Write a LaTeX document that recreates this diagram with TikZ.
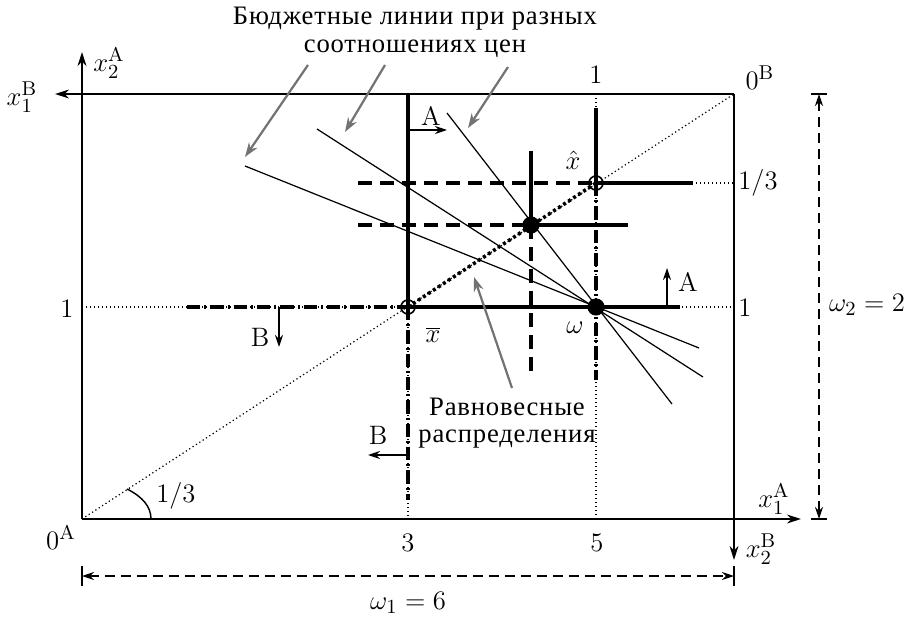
\documentclass[12pt,tikz,border=0pt]{standalone}
\usepackage{fontspec}
\newfontfamily\ru[LetterSpace=3]{Liberation Serif}
\DeclareMathSizes{12}{12}{9}{7}
\usetikzlibrary{arrows.meta}
\begin{document}
\begin{tikzpicture}[x=0.45pt,y=-0.45pt,
  boxline/.style={line width=0.72pt},
  axisarrow/.style={-{Stealth[length=6.3pt,width=4pt]}},
  gridline/.style={line width=0.55pt, dash pattern=on 0.55pt off 1.25pt},
  thickline/.style={line width=1.45pt},
  thickdash/.style={line width=1.45pt, dash pattern=on 6.3pt off 3.6pt},
  thickdashdot/.style={line width=1.45pt, dash pattern=on 6pt off 1.8pt on 0.9pt off 1.8pt},
  contract/.style={line width=1.6pt, dash pattern=on 1.35pt off 1.35pt},
  dimline/.style={line width=0.63pt, dash pattern=on 4.5pt off 2.7pt, {Stealth[length=5.4pt,width=3.6pt]}-{Stealth[length=5.4pt,width=3.6pt]}},
  tickbar/.style={line width=0.72pt},
  smallarrow/.style={line width=0.63pt, -{Stealth[length=5.4pt,width=3.6pt]}},
  grayarrow/.style={draw=black!55, line width=1pt, -{Stealth[length=6.5pt,width=4.5pt]}},
  budget/.style={line width=0.55pt},
  opendot/.style={circle, draw, line width=0.72pt, inner sep=0pt, minimum size=6.3pt},
  fulldot/.style={circle, fill, inner sep=0pt, minimum size=7.7pt},
  lbl/.style={inner sep=1pt},
]
\useasboundingbox (0,0) rectangle (909,617);

% corners and axis ends
\coordinate (OA) at (82,519);
\coordinate (OB) at (734,94);
\coordinate (TL) at (82,94);
\coordinate (BR) at (734,519);
\coordinate (x1Bend) at (55,94);
\coordinate (x2Aend) at (82,52);
\coordinate (x1Aend) at (801,519);
\coordinate (x2Bend) at (734,560);

% key points
\coordinate (xbar) at (408,307);
\coordinate (xhat) at (596,183);
\coordinate (omega) at (596,307);
\coordinate (mid) at (531,225);

% grid (dotted) lines
\coordinate (g1a) at (82,307);   \coordinate (g1b) at (734,307);
\coordinate (g2a) at (596,183);  \coordinate (g2b) at (734,183);
\coordinate (g3a) at (596,94);   \coordinate (g3b) at (596,519);
\coordinate (g4a) at (408,307);  \coordinate (g4b) at (408,519);
\draw[gridline] (g1a) -- (g1b);
\draw[gridline] (g2a) -- (g2b);
\draw[gridline] (g3a) -- (g3b);
\draw[gridline] (g4a) -- (g4b);
\draw[gridline] (OA) -- (OB);

% box and axes
\draw[boxline] (TL) -- (BR |- TL);
\draw[boxline,axisarrow] (OB) -- (x1Bend);
\draw[boxline,axisarrow] (OA) -- (x2Aend);
\draw[boxline,axisarrow] (OA) -- (x1Aend);
\draw[boxline,axisarrow] (OB) -- (x2Bend);

% budget lines
\coordinate (b1s) at (245,166); \coordinate (b1e) at (699,348);
\coordinate (b2s) at (317,129); \coordinate (b2e) at (703,377);
\coordinate (b3s) at (447,113); \coordinate (b3e) at (672,404);
\draw[budget] (b1s) -- (b1e);
\draw[budget] (b2s) -- (b2e);
\draw[budget] (b3s) -- (b3e);

% indifference boundaries through xbar
\coordinate (xbL) at (187,307);
\coordinate (xbT) at (408,94);
\coordinate (xbD) at (408,500);
\coordinate (omR) at (680,307);
\draw[thickdashdot] (xbL) -- (xbar);
\draw[thickline] (xbT) -- (xbar) -- (omR);
\draw[thickdashdot] (xbar) -- (xbD);

% through xhat
\coordinate (xhL) at (358,183);
\coordinate (xhR) at (693,183);
\coordinate (xhT) at (596,108);
\coordinate (omD) at (596,380);
\draw[thickdash] (xhL) -- (xhat);
\draw[thickline] (xhat) -- (xhR);
\draw[thickline] (xhT) -- (xhat);
\draw[thickdashdot] (xhat) -- (omD);

% through middle point
\coordinate (mL) at (358,225);
\coordinate (mR) at (628,225);
\coordinate (mT) at (531,151);
\coordinate (mD) at (531,376);
\draw[thickdash] (mL) -- (mid);
\draw[thickline] (mid) -- (mR);
\draw[thickline] (mT) -- (mid);
\draw[thickdash] (mid) -- (mD);

% contract curve segment
\draw[contract] (xbar) -- (xhat);

% points
\node[opendot] (pxbar) at (xbar) {};
\node[opendot] (pxhat) at (xhat) {};
\node[fulldot] (pomega) at (omega) {};
\node[fulldot] (pmid) at (mid) {};

% angle mark
\coordinate (arcS) at (127,489);
\coordinate (arcE) at (151,519);
\draw[line width=0.65pt] (arcS) .. controls (143,497) and (151,507) .. (arcE);
\node[lbl] (l13a) at (176,496) {$1/3$};

% direction arrows
\coordinate (aAs) at (408,130); \coordinate (aAe) at (447,130);
\draw[smallarrow] (aAs) -- (aAe);
\node[lbl] (lA1) at (431,116) {A};
\coordinate (aA2s) at (667,307); \coordinate (aA2e) at (667,268);
\draw[smallarrow] (aA2s) -- (aA2e);
\node[lbl] (lA2) at (688,282) {A};
\coordinate (aB1s) at (279,307); \coordinate (aB1e) at (279,347);
\draw[smallarrow] (aB1s) -- (aB1e);
\node[lbl] (lB1) at (260,337) {B};
\coordinate (aB2s) at (408,455); \coordinate (aB2e) at (368,455);
\draw[smallarrow] (aB2s) -- (aB2e);
\node[lbl] (lB2) at (378,435) {B};

% point labels
\node[lbl] (lxhat) at (573,160) {$\hat{x}$};
\node[lbl] (lxbar) at (433,335) {$\overline{x}$};
\node[lbl] (lomega) at (575,328) {$\omega$};

% axis labels
\node[lbl] (lx2A) at (109,63) {$x_2^{\mathrm{A}}$};
\node[lbl] (lx1B) at (22,97) {$x_1^{\mathrm{B}}$};
\node[lbl] (l0A) at (61,537) {$0^{\mathrm{A}}$};
\node[lbl] (l0B) at (760,78) {$0^{\mathrm{B}}$};
\node[lbl] (lx1A) at (774,499) {$x_1^{\mathrm{A}}$};
\node[lbl] (lx2B) at (761,549) {$x_2^{\mathrm{B}}$};

% tick labels
\node[lbl] (l3) at (408,543) {$3$};
\node[lbl] (l5) at (597,543) {$5$};
\node[lbl] (l1top) at (596,75) {$1$};
\node[lbl] (l13r) at (758,183) {$1/3$};
\node[lbl] (l1r) at (745,308) {$1$};
\node[lbl] (l1l) at (67,309) {$1$};

% dimension lines
\coordinate (d1a) at (82,576); \coordinate (d1b) at (734,576);
\draw[dimline] (d1a) -- (d1b);
\draw[tickbar] (82,566) -- (82,586);
\draw[tickbar] (734,566) -- (734,586);
\node[lbl] (lw1) at (408,603) {$\omega_1=6$};
\coordinate (d2a) at (819,94); \coordinate (d2b) at (819,519);
\draw[dimline] (d2a) -- (d2b);
\draw[tickbar] (811,94) -- (827,94);
\draw[tickbar] (811,519) -- (827,519);
\node[lbl] (lw2) at (867,305) {$\omega_2=2$};

% texts and gray arrows
\node[align=center, font=\ru, inner sep=0pt] (title) at (415,32) {Бюджетные линии при разных\\[-2pt]соотношениях цен};
\coordinate (t1) at (308,65); \coordinate (t1e) at (245,157);
\coordinate (t2) at (385,65); \coordinate (t2e) at (345,132);
\coordinate (t3) at (508,67); \coordinate (t3e) at (468,128);
\draw[grayarrow] (t1) -- (t1e);
\draw[grayarrow] (t2) -- (t2e);
\draw[grayarrow] (t3) -- (t3e);

\node[align=center, font=\ru, inner sep=0pt] (eqtext) at (507,423) {Равновесные\\[-2pt]распределения};
\coordinate (e1) at (512,388); \coordinate (e1e) at (474,277);
\draw[grayarrow] (e1) -- (e1e);
\end{tikzpicture}
\end{document}
